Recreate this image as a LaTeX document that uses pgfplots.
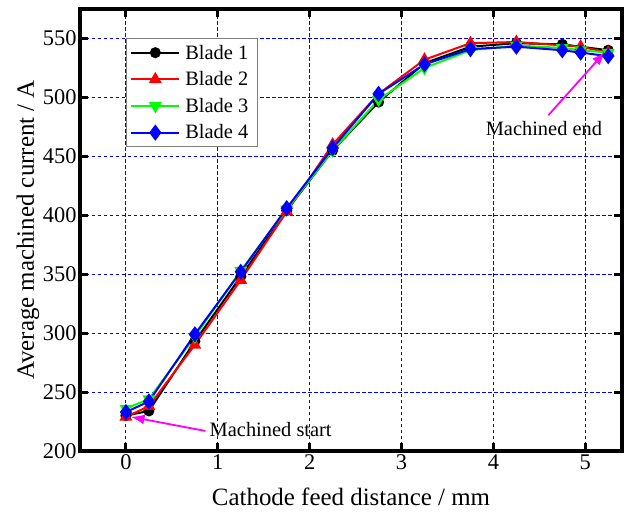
\documentclass[border=0pt]{standalone}
\usepackage{pgfplots}
\pgfplotsset{compat=1.18}
\usepackage{fontspec}
\setmainfont{Liberation Serif}
\usetikzlibrary{arrows.meta}

\definecolor{pureRed}{RGB}{255,0,0}
\definecolor{pureGreen}{RGB}{0,255,0}
\definecolor{pureBlue}{RGB}{0,0,255}
\definecolor{pureMagenta}{RGB}{255,0,255}

\begin{document}
\begin{tikzpicture}[font=\fontsize{22}{26}\selectfont]
\begin{axis}[
  scale only axis,
  width=542bp, height=442bp,
  xmin=-0.5, xmax=5.4,
  ymin=200, ymax=575,
  xtick={0,1,2,3,4,5},
  ytick={200,250,300,350,400,450,500,550},
  /pgf/number format/assume math mode=true,
  tick label style={font=\fontsize{22.5}{26}\selectfont},
  tick align=inside,
  major tick length=8bp,
  every tick/.style={line width=3bp, black},
  axis line style={line width=3.5bp},
  grid=major,
  major grid style={pureBlue, line width=0.9bp, dash pattern=on 3.5bp off 2.5bp},
  xlabel={Cathode feed distance / mm},
  ylabel={Average machined current / A},
  label style={font=\fontsize{25}{29}\selectfont},
  xlabel style={at={(axis description cs:0.5,-0.104)}, anchor=center},
  ylabel style={at={(axis description cs:-0.096,0.5)}, anchor=center},
  legend cell align=left,
  legend style={at={(axis cs:0,550)}, anchor=north west,
    draw=gray, line width=0.8bp, fill=white,
    font=\fontsize{20.5}{24}\selectfont,
    inner xsep=4bp, inner ysep=4bp, row sep=7bp,
    nodes={inner xsep=5bp}},
  legend image code/.code={
    \draw[mark repeat=2, mark phase=2]
      plot coordinates {(0bp,0bp) (24bp,0bp) (48bp,0bp)};},
  every axis plot/.append style={line width=2bp},
]

\addplot[black, mark=*, mark size=4.5bp] coordinates {
  (0,230) (0.25,234) (0.75,293) (1.25,348) (1.75,404) (2.25,455)
  (2.75,496) (3.25,529) (3.75,543) (4.25,546) (4.75,545) (5.25,540)
};
\addlegendentry{Blade 1}

\addplot[pureRed, mark=triangle*, mark size=5.5bp] coordinates {
  (0,229) (0.25,238) (0.75,290) (1.25,345) (1.75,403) (2.25,460)
  (2.75,503) (3.25,532) (3.75,546) (4.25,547) (4.95,543) (5.25,538)
};
\addlegendentry{Blade 2}

\addplot[pureGreen, mark=triangle*, mark options={rotate=180}, mark size=5.5bp] coordinates {
  (0,236) (0.25,244) (0.75,297) (1.25,353) (1.75,405) (2.25,455)
  (2.75,498) (3.25,525) (3.75,540) (4.25,544) (4.75,542) (4.95,540) (5.25,538)
};
\addlegendentry{Blade 3}

\addplot[pureBlue, mark=diamond*, mark size=6.5bp] coordinates {
  (0,233) (0.25,242) (0.75,299) (1.25,352) (1.75,406) (2.25,457)
  (2.75,503) (3.25,528) (3.75,541) (4.25,543) (4.75,540) (4.95,538) (5.25,535)
};
\addlegendentry{Blade 4}

% annotations for the start and end of machining
\draw[pureMagenta, line width=1.8bp, -{Latex[length=14bp,width=10bp]}]
  (axis cs:0.866,217) -- (axis cs:0.05,229);
\node[anchor=west, font=\fontsize{20.5}{24}\selectfont, inner sep=0pt]
  at (axis cs:0.91,218.4) {Machined start};
\draw[pureMagenta, line width=1.8bp, -{Latex[length=14bp,width=10bp]}]
  (axis cs:4.60,485) -- (axis cs:5.22,539);
\node[anchor=center, font=\fontsize{20.5}{24}\selectfont, inner sep=1pt]
  at (axis cs:4.55,474) {Machined end};
\end{axis}
\pgfresetboundingbox
\path[use as bounding box]
  ([xshift=-80bp,yshift=-64bp]current axis.south west)
  rectangle ([xshift=3bp,yshift=9bp]current axis.north east);
\end{tikzpicture}
\end{document}
